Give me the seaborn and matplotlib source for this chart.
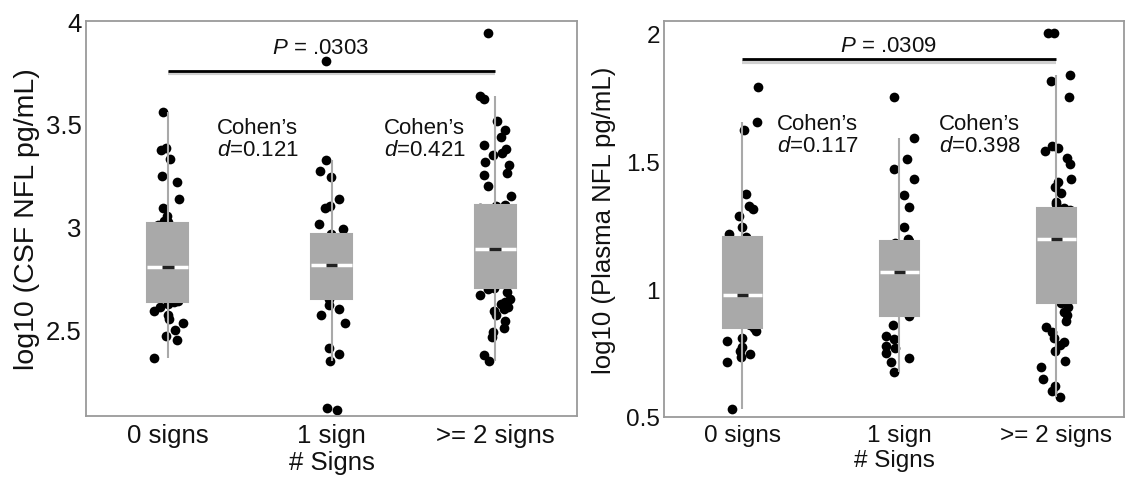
import numpy as np
import pandas as pd
import seaborn as sns
import matplotlib.pyplot as plt

sns.set_theme(style='white')
plt.rcParams['font.family'] = ['Liberation Sans', 'DejaVu Sans']
plt.rcParams['mathtext.fontset'] = 'custom'
plt.rcParams['mathtext.rm'] = 'Liberation Sans'
plt.rcParams['mathtext.it'] = 'Liberation Sans:italic'

groups = ['0 signs', '1 sign', '>= 2 signs']

csf_0 = [2.364, 2.45, 2.47, 2.50, 2.53, 2.55, 2.57, 2.59, 2.61, 2.625,
         2.635, 2.64, 2.66, 2.68, 2.70, 2.72, 2.738, 2.76, 2.78, 2.79,
         2.80, 2.812, 2.83, 2.85, 2.87, 2.89, 2.92, 2.94, 2.96, 2.99, 3.01,
         3.024, 3.029, 3.053, 3.092, 3.136, 3.218, 3.248, 3.33, 3.374, 3.383, 3.558]
csf_1 = [2.11, 2.12, 2.345, 2.38, 2.41, 2.53, 2.57, 2.60, 2.62, 2.65,
         2.68, 2.70, 2.73, 2.75, 2.77, 2.79, 2.80, 2.81, 2.816,
         2.83, 2.85, 2.87, 2.89, 2.91, 2.93, 2.945, 2.955, 2.966,
         2.99, 3.015, 3.09, 3.10, 3.136, 3.24, 3.27, 3.322, 3.806]
csf_2 = [2.346, 2.375, 2.466, 2.49, 2.51, 2.54, 2.57, 2.59, 2.60, 2.61, 2.625, 2.636,
         2.65, 2.67, 2.685, 2.695, 2.704,
         2.72, 2.74, 2.76, 2.78, 2.80, 2.81, 2.82, 2.83, 2.84, 2.85, 2.86, 2.87, 2.875, 2.88, 2.888,
         2.893,
         2.90, 2.92, 2.94, 2.96, 2.98, 3.00, 3.02, 3.03, 3.04, 3.05, 3.06, 3.07, 3.08, 3.09, 3.10,
         3.107,
         3.15, 3.20, 3.25, 3.262, 3.30, 3.315, 3.35, 3.36, 3.38, 3.395, 3.437, 3.468, 3.516,
         3.62, 3.634, 3.942]

pl_0 = [0.531, 0.715, 0.734, 0.745, 0.759, 0.775, 0.798, 0.81, 0.837, 0.846,
        0.86, 0.875, 0.898, 0.91, 0.925, 0.94, 0.955, 0.965, 0.975,
        0.99, 1.02, 1.05, 1.08, 1.11, 1.14, 1.17, 1.19, 1.202,
        1.215, 1.242, 1.286, 1.3125, 1.325, 1.371, 1.622, 1.653, 1.788]
pl_1 = [0.677, 0.715, 0.73, 0.75, 0.768, 0.779, 0.805, 0.818, 0.86, 0.893,
        0.92, 0.95, 0.98, 1.00, 1.02, 1.04, 1.05, 1.06, 1.068,
        1.08, 1.10, 1.11, 1.125, 1.14, 1.155, 1.17, 1.18, 1.189,
        1.195, 1.241, 1.319, 1.367, 1.43, 1.469, 1.508, 1.589, 1.749]
pl_2 = [0.58, 0.60, 0.62, 0.65, 0.695, 0.72, 0.759, 0.78, 0.793, 0.81, 0.832, 0.85,
        0.875, 0.898, 0.91, 0.93, 0.944,
        0.96, 0.98, 1.00, 1.02, 1.04, 1.06, 1.08, 1.10, 1.12, 1.14, 1.15, 1.16, 1.17, 1.18, 1.19,
        1.195,
        1.20, 1.21, 1.22, 1.23, 1.24, 1.25, 1.26, 1.27, 1.28, 1.285, 1.29, 1.295, 1.30, 1.305, 1.31,
        1.315,
        1.332, 1.34, 1.377, 1.40, 1.417, 1.43, 1.49, 1.51, 1.54, 1.55, 1.56, 1.75, 1.814,
        1.836, 2.0, 2.0]

csf_p = '.0303'
csf_d = ['0.121', '0.421']
pl_p = '.0309'
pl_d = ['0.117', '0.398']

BOX = '#a9a9a9'
SPINE = '#9a9a9a'
TXT = '#111111'


def make_df(a, b, c):
    return pd.DataFrame({
        'group': [groups[0]] * len(a) + [groups[1]] * len(b) + [groups[2]] * len(c),
        'value': list(a) + list(b) + list(c),
    })


def draw(ax, df, ylim, yticks, yticklabels, ylabel, ptext, pline_y, ptext_y,
         dvals, dx, dy, xlim, seed, tick_fs, ylab_fs, ylab_pad):
    np.random.seed(seed)
    sns.stripplot(data=df, x='group', y='value', order=groups, color='black',
                  size=7.0, jitter=0.1, linewidth=0, zorder=1, ax=ax)
    sns.boxplot(data=df, x='group', y='value', order=groups, width=0.25,
                showfliers=False, showcaps=False, color=BOX, linecolor=BOX,
                linewidth=1.5, medianprops=dict(color='white', linewidth=2.5),
                zorder=3, ax=ax)
    meds = df.groupby('group')['value'].median()
    for i, g in enumerate(groups):
        ax.plot([i - 0.035, i + 0.035], [meds[g], meds[g]], color='#222222',
                lw=2.5, zorder=6, solid_capstyle='butt')
    ax.set_xlim(*xlim)
    ax.set_ylim(*ylim)
    ax.set_yticks(yticks)
    ax.set_yticklabels(yticklabels)
    ax.tick_params(axis='both', length=0, labelsize=tick_fs, colors=TXT)
    ax.tick_params(axis='x', pad=5)
    ax.tick_params(axis='y', pad=3)
    ax.set_xlabel('# Signs', fontsize=tick_fs, labelpad=2, color=TXT)
    ax.set_ylabel(ylabel, fontsize=ylab_fs, labelpad=ylab_pad, color=TXT)
    for s in ax.spines.values():
        s.set_color(SPINE)
        s.set_linewidth(1.3)
    # significance bar with soft shadow
    span = ylim[1] - ylim[0]
    ax.plot([0, 2], [pline_y - span * 0.006] * 2, color='#d0d0d0', lw=3, zorder=4,
            solid_capstyle='butt')
    ax.plot([0, 2], [pline_y, pline_y], color='black', lw=2, zorder=5,
            solid_capstyle='butt')
    ax.text(0.93, ptext_y, r'$P$ = ' + ptext, ha='center',
            va='center', fontsize=16, color=TXT)
    for k, dv in enumerate(dvals):
        ax.text(dx[k], dy, 'Cohen\u2019s\n' + r'$d$=' + dv, ha='left', va='center',
                fontsize=16, linespacing=1.05, color=TXT)


fig = plt.figure(figsize=(11.26, 4.81), dpi=100)
ax1 = fig.add_axes([86 / 1126, 64 / 481, 491 / 1126, 395 / 481])
ax2 = fig.add_axes([664 / 1126, 63 / 481, 460 / 1126, 396 / 481])

draw(ax1, make_df(csf_0, csf_1, csf_2), (2.08, 4.0), [2.5, 3, 3.5, 4],
     ['2.5', '3', '3.5', '4'], 'log10 (CSF NFL pg/mL)', csf_p, 3.757, 3.87,
     csf_d, [0.30, 1.32], 3.43, (-0.5, 2.5), 7, 18.5, 20.5, 4)
draw(ax2, make_df(pl_0, pl_1, pl_2), (0.5, 2.047), [0.5, 1, 1.5, 2],
     ['0.5', '1', '1.5', '2'], 'log10 (Plasma NFL pg/mL)', pl_p, 1.898, 1.95,
     pl_d, [0.22, 1.25], 1.605, (-0.5, 2.43), 11, 17.5, 18.5, 7)

fig.savefig('out.png', dpi=100)
